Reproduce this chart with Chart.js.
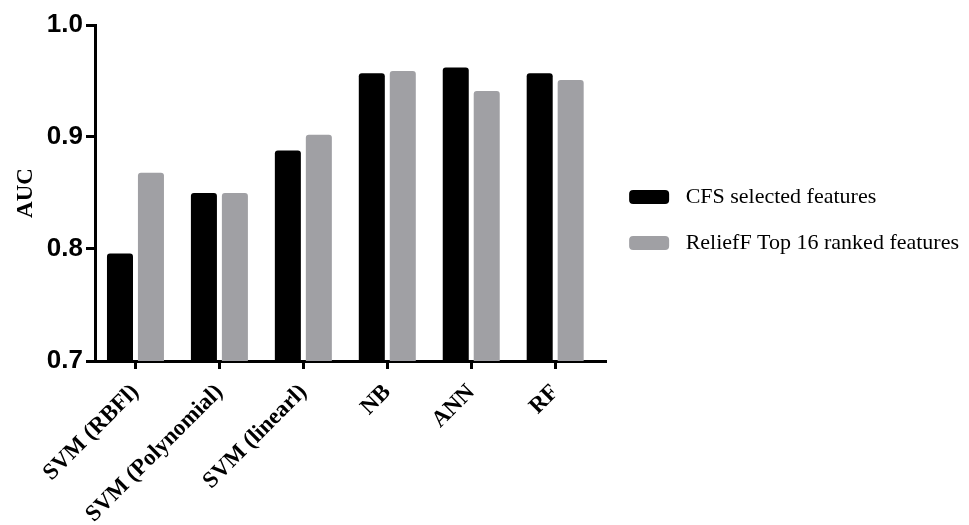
<!DOCTYPE html>
<html>
<head>
<meta charset="utf-8">
<script src="https://cdn.jsdelivr.net/npm/chart.js@4.4.1/dist/chart.umd.min.js"></script>
<style>
  html, body { margin: 0; padding: 0; background: #fff; }
  #wrap { width: 969px; height: 525px; }
</style>
</head>
<body>
<div id="wrap"><canvas id="aucChart" width="969" height="525"></canvas></div>
<script>
const categories = ["SVM (RBFl)", "SVM (Polynomial)", "SVM (linearl)", "NB", "ANN", "RF"];
const cfsValues = [0.796, 0.850, 0.888, 0.957, 0.962, 0.957];
const reliefValues = [0.868, 0.850, 0.902, 0.959, 0.941, 0.951];
const yTicks = [0.7, 0.8, 0.9, 1.0];

const serif = "'Liberation Serif', 'Times New Roman', serif";
const sans = "'Liberation Sans', Arial, sans-serif";

const ctx = document.getElementById("aucChart").getContext("2d");

new Chart(ctx, {
  type: "bar",
  data: {
    datasets: [
      {
        label: "CFS selected features",
        data: cfsValues.map((v, i) => ({ x: i, y: v })),
        backgroundColor: "#000000",
        borderWidth: 0,
        borderRadius: 3
      },
      {
        label: "ReliefF Top 16 ranked features",
        data: reliefValues.map((v, i) => ({ x: i, y: v })),
        backgroundColor: "#a0a0a4",
        borderWidth: 0,
        borderRadius: 3
      }
    ]
  },
  options: {
    responsive: false,
    animation: false,
    categoryPercentage: 0.738,
    barPercentage: 0.84,
    layout: { padding: { top: 25, right: 0, bottom: 0, left: 0 } },
    plugins: {
      tooltip: { enabled: false },
      legend: {
        position: "right",
        align: "start",
        fullSize: false,
        maxWidth: 420,
        // empty title only pushes the two entries down to where they sit
        title: { display: true, text: "", padding: { top: 125, bottom: 0 }, font: { size: 10 } },
        labels: {
          boxWidth: 40,
          boxHeight: 14,
          useBorderRadius: true,
          borderRadius: 4,
          padding: 24,
          color: "#000",
          font: { family: serif, size: 22 },
          generateLabels: chart =>
            Chart.defaults.plugins.legend.labels.generateLabels(chart)
              .map(item => ({ ...item, text: " " + item.text }))
        }
      }
    },
    scales: {
      x: {
        type: "linear",
        offset: false,
        min: -0.482,
        max: 5.595,
        afterBuildTicks: scale => {
          scale.ticks = categories.map((c, i) => ({ value: i }));
        },
        afterFit: scale => {
          scale.height = 164;
          scale.paddingLeft = 0;
          scale.paddingRight = 0;
        },
        grid: {
          offset: false,
          drawOnChartArea: false,
          drawTicks: true,
          tickLength: 8,
          color: "#000",
          lineWidth: 3
        },
        border: { display: true, color: "#000", width: 3 },
        ticks: {
          autoSkip: false,
          minRotation: 45,
          maxRotation: 45,
          padding: 10,
          color: "#000",
          font: { family: serif, size: 23, weight: "bold" },
          callback: value => categories[value]
        }
      },
      y: {
        min: 0.7,
        max: 1.0,
        afterBuildTicks: scale => {
          scale.ticks = yTicks.map(v => ({ value: v }));
        },
        afterFit: scale => {
          scale.width = 95;
          scale.paddingTop = 0;
          scale.paddingBottom = 0;
        },
        grid: {
          drawOnChartArea: false,
          drawTicks: true,
          tickLength: 9,
          color: "#000",
          lineWidth: 3
        },
        border: { display: true, color: "#000", width: 3 },
        title: {
          display: true,
          text: "AUC",
          color: "#000",
          padding: { top: 12, bottom: 0 },
          font: { family: serif, size: 23, weight: "bold" }
        },
        ticks: {
          padding: 3,
          color: "#000",
          font: { family: sans, size: 26, weight: "bold" },
          callback: value => value.toFixed(1)
        }
      }
    }
  }
});
</script>
</body>
</html>
